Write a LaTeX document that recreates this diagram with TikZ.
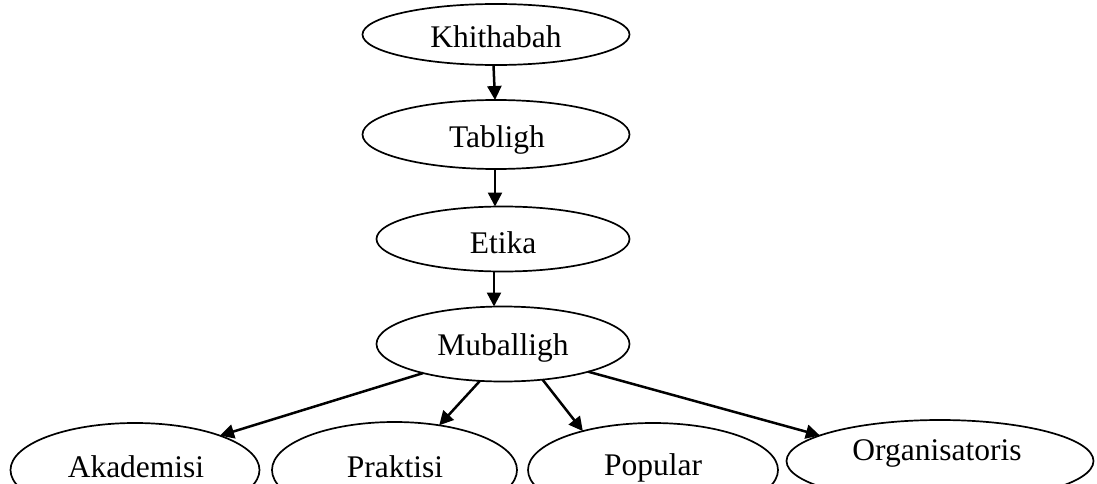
\documentclass[tikz,border=0pt]{standalone}
\usepackage{fontspec}
\setmainfont{Liberation Serif}
\usetikzlibrary{shapes.geometric,arrows.meta}
\begin{document}
\begin{tikzpicture}[x=1pt,y=-1pt,
  ell/.style={draw=black,line width=1.7pt,ellipse,inner sep=0pt,outer sep=0pt},
  lbl/.style={anchor=base,inner sep=0pt,font=\fontsize{31.5}{36}\selectfont},
  arr/.style={line width=2.5pt,-{Triangle[length=14pt,width=14pt]}}]
\useasboundingbox (0,0) rectangle (1097,484);
\clip (0,0) rectangle (1097,484);
% ellipses
\node[ell,minimum width=267pt,minimum height=61pt] (khi) at (496,34.5) {};
\node[ell,minimum width=267pt,minimum height=69pt] (tab) at (496,134.5) {};
\node[ell,minimum width=253pt,minimum height=65pt] (eti) at (503,239) {};
\node[ell,minimum width=253pt,minimum height=75pt] (mub) at (503,344) {};
\node[ell,minimum width=249pt,minimum height=94pt] (aka) at (135,470) {};
\node[ell,minimum width=245pt,minimum height=96pt] (pra) at (394.5,470) {};
\node[ell,minimum width=250pt,minimum height=94pt] (pop) at (653,470) {};
\node[ell,minimum width=307pt,minimum height=82pt] (org) at (940,461) {};
% texts
\node[lbl] (khit) at (496,48) {Khithabah};
\node[lbl] (tabt) at (497,147) {Tabligh};
\node[lbl] (etit) at (503,253) {Etika};
\node[lbl] (mubt) at (503,355) {Muballigh};
\node[lbl] (akat) at (136,477) {Akademisi};
\node[lbl] (prat) at (395,477) {Praktisi};
\node[lbl] (popt) at (653,475) {Popular};
\node[lbl] (orgt) at (937,460) {Organisatoris};
% connectors
\draw[arr] ([xshift=-2.5pt]khi.south) -- ([xshift=-1pt]tab.north);
\draw[arr] ([xshift=-1pt]tab.south) -- ([xshift=-8pt]eti.north);
\draw[arr] ([xshift=-9pt]eti.south) -- ([xshift=-9pt]mub.north);
\draw[arr] (mub.200) -- (aka.22);
\draw[arr] (mub.238) -- (pra.45);
\draw[arr] (mub.318) -- (pop.151);
\draw[arr] (mub.342) -- (org.168);
\end{tikzpicture}
\end{document}
